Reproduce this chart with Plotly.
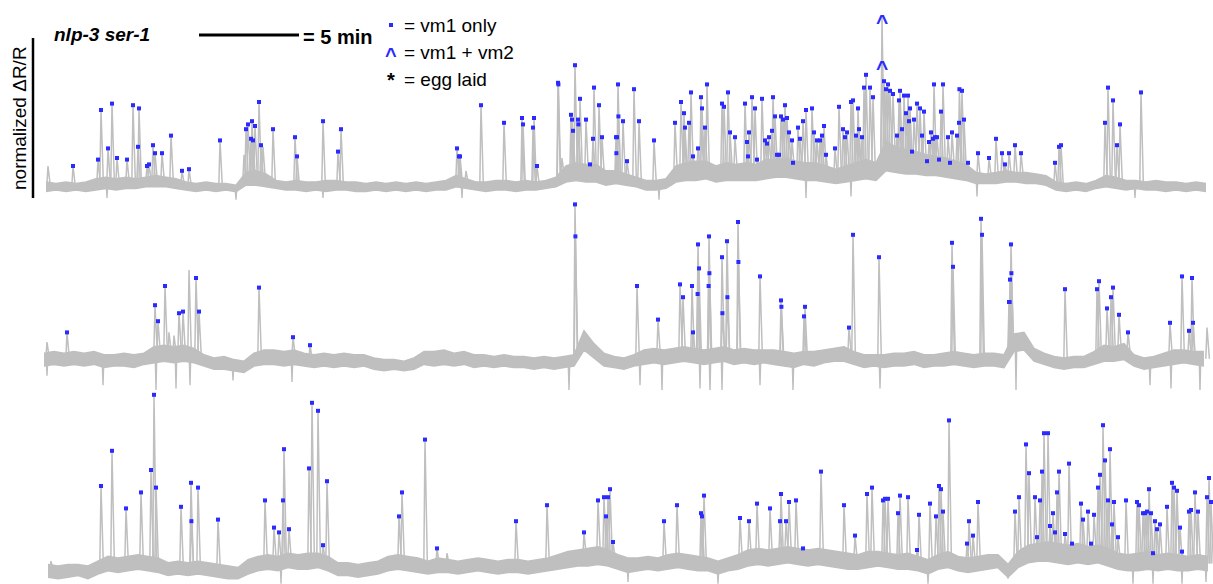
import numpy as np
import plotly.graph_objects as go

# ---------------------------------------------------------------------------
# Data: time in minutes, signal in normalized dR/R units
# ---------------------------------------------------------------------------
BASE_STEP = 0.5  # sampling interval of the resting band (min)

# ---- row 1 ----
r1_base_t0 = 0.1
r1_floor = [-0.01, 0.00, -0.01, 0.00, -0.01, 0.00, 0.01, 0.00, 0.01, 0.01,
            0.02, 0.02, 0.02, 0.01, 0.00, -0.01, 0.00, -0.01, 0.00, -0.01,
            0.03, 0.03, 0.02, 0.01, 0.00, 0.00, -0.01, 0.00, -0.01, 0.00,
            0.00, -0.01, -0.01, 0.00, -0.01, 0.00, -0.01, 0.00, -0.01, 0.00,
            0.00, 0.02, 0.01, 0.00, -0.01, 0.00, 0.00, -0.01, 0.00, 0.00,
            0.01, 0.02, 0.05, 0.06, 0.05, 0.05, 0.03, 0.04, 0.03, 0.02,
            0.00, 0.00, 0.01, 0.05, 0.06, 0.06, 0.07, 0.05, 0.06, 0.06,
            0.06, 0.06, 0.07, 0.08, 0.08, 0.07, 0.06, 0.06, 0.05, 0.04,
            0.05, 0.06, 0.07, 0.06, 0.12, 0.11, 0.10, 0.10, 0.09, 0.09,
            0.08, 0.07, 0.06, 0.04, 0.04, 0.04, 0.05, 0.05, 0.04, 0.04,
            0.03, 0.00, -0.01, 0.00, -0.01, 0.01, 0.02, 0.01, 0.00, 0.01,
            0.00, 0.00, -0.01, 0.00, -0.01, 0.00, -0.01]
r1_ceil = [0.05, 0.04, 0.05, 0.04, 0.05, 0.07, 0.08, 0.07, 0.08, 0.07,
           0.08, 0.09, 0.08, 0.07, 0.05, 0.04, 0.05, 0.04, 0.04, 0.03,
           0.11, 0.12, 0.10, 0.06, 0.05, 0.06, 0.05, 0.05, 0.06, 0.06,
           0.05, 0.05, 0.04, 0.05, 0.04, 0.05, 0.04, 0.05, 0.04, 0.05,
           0.06, 0.09, 0.07, 0.05, 0.05, 0.06, 0.06, 0.05, 0.06, 0.05,
           0.06, 0.08, 0.15, 0.17, 0.16, 0.16, 0.12, 0.12, 0.10, 0.08,
           0.06, 0.06, 0.07, 0.15, 0.17, 0.18, 0.18, 0.15, 0.17, 0.16,
           0.17, 0.16, 0.19, 0.19, 0.20, 0.18, 0.17, 0.17, 0.15, 0.13,
           0.15, 0.17, 0.19, 0.17, 0.30, 0.27, 0.25, 0.24, 0.22, 0.21,
           0.20, 0.18, 0.16, 0.11, 0.10, 0.11, 0.12, 0.11, 0.11, 0.10,
           0.09, 0.05, 0.04, 0.05, 0.04, 0.06, 0.09, 0.08, 0.06, 0.06,
           0.05, 0.06, 0.05, 0.05, 0.04, 0.05, 0.04]
r1_vm1_t = [1.45, 2.70, 2.85, 3.20, 3.40, 3.65, 4.15, 4.45, 4.70, 4.75,
            5.15, 5.25, 5.45, 5.55, 5.90, 6.35, 6.90, 7.25, 8.80, 10.10,
            10.20, 10.40, 10.35, 10.45, 10.55, 10.75, 10.85, 11.45, 12.55, 12.65,
            13.95, 14.70, 14.85, 20.65, 20.75, 20.80, 21.85, 23.00, 23.90, 23.95,
            24.45, 24.50, 24.65, 25.70, 25.72, 26.35, 26.40, 26.45, 26.55, 26.70,
            26.72, 26.80, 27.10, 27.30, 27.45, 27.50, 27.75, 27.90, 28.60, 28.62,
            28.65, 28.70, 28.72, 28.95, 29.15, 29.50, 29.75, 30.50, 31.55, 31.85,
            32.00, 32.05, 32.25, 32.35, 32.45, 32.70, 32.85, 32.90, 33.05, 33.15,
            33.90, 34.00, 34.20, 34.30, 34.55, 35.05, 35.15, 35.20, 35.25, 35.40,
            35.55, 35.65, 35.90, 36.05, 36.15, 36.25, 36.40, 36.45, 36.55, 36.65,
            36.75, 36.85, 36.95, 37.05, 37.15, 37.25, 37.40, 37.45, 37.70, 37.80,
            37.95, 38.10, 38.40, 38.50, 38.65, 38.80, 38.90, 39.00, 39.10, 39.55,
            39.75, 39.95, 40.05, 40.15, 40.35, 40.45, 40.60, 40.70, 40.75, 40.90,
            41.00, 41.10, 41.30, 41.45, 42.00, 42.10, 42.20, 42.30, 42.45, 42.65,
            42.75, 42.80, 42.90, 43.00, 43.10, 43.20, 43.25, 43.30, 43.40, 43.50,
            43.65, 43.80, 43.90, 44.00, 44.15, 44.25, 44.35, 44.45, 44.50, 44.55,
            44.65, 44.75, 44.85, 44.95, 45.20, 45.30, 45.40, 45.65, 45.75, 45.77,
            45.90, 46.00, 46.20, 46.70, 47.25, 47.60, 47.90, 48.05, 48.25, 48.55,
            48.85, 50.55, 50.75, 50.85, 53.05, 53.20, 53.45, 53.65, 53.80, 54.85]
r1_vm1_v = [0.15, 0.19, 0.50, 0.26, 0.54, 0.20, 0.19, 0.53, 0.27, 0.51,
            0.15, 0.16, 0.28, 0.23, 0.23, 0.34, 0.12, 0.13, 0.31, 0.38,
            0.41, 0.43, 0.32, 0.31, 0.40, 0.55, 0.28, 0.38, 0.33, 0.21,
            0.43, 0.24, 0.38, 0.26, 0.21, 0.21, 0.53, 0.42, 0.45, 0.41,
            0.39, 0.45, 0.15, 0.67, 0.66, 0.47, 0.44, 0.37, 0.78, 0.44,
            0.41, 0.57, 0.44, 0.16, 0.32, 0.64, 0.53, 0.33, 0.33, 0.23,
            0.33, 0.66, 0.46, 0.43, 0.18, 0.63, 0.43, 0.31, 0.42, 0.55,
            0.48, 0.39, 0.42, 0.61, 0.21, 0.26, 0.58, 0.51, 0.39, 0.66,
            0.54, 0.52, 0.61, 0.36, 0.33, 0.54, 0.30, 0.21, 0.36, 0.58,
            0.51, 0.19, 0.57, 0.31, 0.29, 0.33, 0.37, 0.58, 0.46, 0.22,
            0.22, 0.46, 0.44, 0.53, 0.45, 0.36, 0.31, 0.17, 0.39, 0.32,
            0.43, 0.50, 0.51, 0.36, 0.31, 0.31, 0.34, 0.40, 0.22, 0.26,
            0.52, 0.38, 0.33, 0.36, 0.55, 0.56, 0.34, 0.51, 0.38, 0.33,
            0.64, 0.72, 0.64, 0.58, 0.68, 0.63, 0.66, 0.62, 0.60, 0.34,
            0.56, 0.62, 0.38, 0.59, 0.48, 0.59, 0.43, 0.51, 0.24, 0.44,
            0.54, 0.51, 0.34, 0.49, 0.18, 0.30, 0.36, 0.32, 0.66, 0.33,
            0.33, 0.19, 0.49, 0.66, 0.33, 0.17, 0.36, 0.34, 0.42, 0.63,
            0.62, 0.44, 0.17, 0.23, 0.20, 0.32, 0.23, 0.16, 0.23, 0.28,
            0.23, 0.17, 0.27, 0.28, 0.42, 0.64, 0.56, 0.28, 0.41, 0.61]
r1_vm12_t = [41.90, 41.90]
r1_vm12_v = [1.08, 0.79]
r1_other_t = [0.20, 10.00, 10.95, 21.10, 25.90]
r1_other_v = [0.15, 0.22, 0.27, 0.12, 0.20]
r1_dip_t = [3.15, 9.60, 13.95, 20.90, 30.75, 38.10, 40.35, 46.65, 54.55]
r1_dip_v = [-0.05, -0.06, -0.05, -0.05, -0.06, -0.05, -0.04, -0.04, -0.05]

# ---- row 2 ----
r2_base_t0 = 0.0
r2_floor = [0.00, 0.01, 0.00, 0.01, 0.00, 0.01, -0.01, 0.00, 0.00, -0.01,
            0.01, 0.02, 0.03, 0.02, 0.03, 0.02, 0.00, -0.02, -0.02, -0.03,
            -0.04, 0.00, 0.01, 0.01, 0.00, 0.01, 0.00, -0.01, 0.00, -0.01,
            0.00, -0.01, 0.00, -0.02, -0.03, -0.02, -0.03, -0.02, 0.01, 0.00,
            0.01, 0.00, 0.01, -0.01, 0.00, -0.01, 0.00, -0.01, -0.01, -0.02,
            -0.01, -0.02, -0.01, 0.00, 0.10, 0.05, 0.00, -0.01, -0.02, 0.00,
            0.01, 0.02, 0.01, 0.02, 0.03, 0.02, 0.01, 0.02, 0.03, 0.01,
            0.02, 0.01, 0.02, 0.01, 0.00, -0.01, 0.01, 0.00, 0.02, 0.03,
            0.03, 0.01, -0.01, 0.00, -0.01, 0.00, 0.00, 0.01, -0.01, 0.00,
            0.00, 0.01, 0.00, -0.01, 0.00, 0.00, -0.01, 0.09, 0.10, 0.03,
            0.01, -0.01, -0.02, -0.01, -0.01, 0.01, 0.03, 0.03, 0.04, 0.00,
            -0.02, -0.01, 0.00, 0.01, 0.02, 0.01, 0.00]
r2_ceil = [0.08, 0.09, 0.08, 0.09, 0.08, 0.09, 0.07, 0.07, 0.08, 0.07,
           0.08, 0.12, 0.13, 0.12, 0.13, 0.11, 0.07, 0.05, 0.06, 0.04,
           0.03, 0.08, 0.10, 0.10, 0.09, 0.10, 0.08, 0.07, 0.08, 0.07,
           0.08, 0.07, 0.07, 0.05, 0.04, 0.04, 0.03, 0.05, 0.09, 0.09,
           0.10, 0.08, 0.09, 0.07, 0.07, 0.06, 0.07, 0.06, 0.06, 0.05,
           0.06, 0.05, 0.06, 0.07, 0.22, 0.14, 0.08, 0.06, 0.05, 0.07,
           0.10, 0.11, 0.10, 0.11, 0.12, 0.11, 0.10, 0.11, 0.12, 0.10,
           0.11, 0.10, 0.10, 0.10, 0.09, 0.08, 0.09, 0.09, 0.10, 0.11,
           0.12, 0.09, 0.07, 0.07, 0.07, 0.08, 0.08, 0.09, 0.07, 0.07,
           0.08, 0.09, 0.08, 0.07, 0.08, 0.08, 0.07, 0.20, 0.21, 0.11,
           0.08, 0.06, 0.05, 0.06, 0.06, 0.09, 0.13, 0.12, 0.14, 0.07,
           0.05, 0.06, 0.08, 0.10, 0.10, 0.09, 0.09]
r2_vm1_t = [1.15, 5.55, 5.70, 6.05, 6.75, 6.95, 7.60, 7.75, 10.75, 12.45,
            13.30, 26.55, 26.57, 29.65, 30.70, 31.80, 31.95, 32.40, 32.45, 32.70,
            32.75, 32.68, 33.25, 33.27, 33.23, 33.90, 33.92, 34.15, 34.17, 34.70,
            34.72, 35.80, 36.85, 36.87, 38.05, 38.00, 40.25, 40.45, 41.75, 45.40,
            45.45, 46.85, 46.90, 48.35, 48.37, 48.30, 48.25, 48.28, 51.05, 52.65,
            52.75, 53.15, 53.35, 53.45, 53.75, 54.20, 56.30, 56.90, 57.25, 57.40,
            57.45]
r2_vm1_v = [0.21, 0.38, 0.28, 0.50, 0.33, 0.34, 0.55, 0.34, 0.49, 0.18,
            0.13, 1.01, 0.81, 0.50, 0.29, 0.51, 0.43, 0.50, 0.21, 0.76,
            0.61, 0.45, 0.81, 0.58, 0.50, 0.68, 0.33, 0.78, 0.43, 0.90,
            0.65, 0.56, 0.41, 0.37, 0.37, 0.31, 0.24, 0.82, 0.68, 0.77,
            0.62, 0.92, 0.82, 0.76, 0.58, 0.54, 0.40, 0.40, 0.48, 0.48,
            0.53, 0.36, 0.43, 0.49, 0.32, 0.21, 0.27, 0.56, 0.22, 0.55,
            0.27]
r2_other_t = [0.15, 6.25, 6.50, 7.25, 48.70, 58.15]
r2_other_v = [0.15, 0.21, 0.19, 0.60, 0.12, 0.24]
r2_dip_t = [0.15, 2.95, 5.60, 6.60, 7.30, 9.45, 12.40, 26.25, 29.80, 30.90,
            32.80, 33.30, 33.90, 35.80, 37.45, 41.80, 48.60, 55.30, 56.35, 57.80]
r2_dip_v = [-0.06, -0.12, -0.15, -0.14, -0.12, -0.09, -0.10, -0.15, -0.12, -0.16,
            -0.14, -0.16, -0.15, -0.12, -0.15, -0.14, -0.15, -0.12, -0.14, -0.16]

# ---- row 3 ----
r3_base_t0 = 0.2
r3_floor = [-0.02, -0.03, -0.02, -0.01, -0.03, 0.00, 0.02, 0.01, 0.02, 0.03,
            0.02, 0.01, -0.01, 0.00, -0.01, 0.00, -0.01, -0.02, -0.03, -0.03,
            0.00, 0.02, 0.03, 0.02, 0.04, 0.03, 0.03, 0.04, 0.02, -0.01,
            -0.01, -0.02, -0.01, 0.00, 0.02, 0.03, 0.02, 0.01, 0.00, 0.01,
            0.01, 0.00, 0.01, 0.02, 0.01, 0.00, 0.01, 0.01, 0.00, 0.01,
            0.02, 0.03, 0.04, 0.05, 0.05, 0.06, 0.05, 0.03, 0.01, 0.02,
            0.03, 0.02, 0.03, 0.04, 0.03, 0.02, 0.02, 0.00, 0.02, 0.03,
            0.05, 0.06, 0.05, 0.06, 0.07, 0.06, 0.05, 0.06, 0.05, 0.04,
            0.03, 0.03, 0.04, 0.05, 0.04, 0.03, 0.03, 0.02, 0.00, 0.03,
            0.04, 0.02, 0.01, 0.02, 0.03, 0.04, -0.02, 0.04, 0.07, 0.08,
            0.08, 0.07, 0.06, 0.07, 0.06, 0.07, 0.05, 0.03, 0.02, 0.02,
            0.03, 0.02, 0.03, 0.02, 0.02, 0.03, 0.02]
r3_ceil = [0.06, 0.05, 0.06, 0.06, 0.05, 0.08, 0.11, 0.10, 0.11, 0.12,
           0.11, 0.10, 0.07, 0.08, 0.07, 0.08, 0.07, 0.06, 0.05, 0.04,
           0.09, 0.11, 0.12, 0.11, 0.13, 0.12, 0.13, 0.13, 0.11, 0.07,
           0.07, 0.06, 0.07, 0.08, 0.11, 0.12, 0.11, 0.10, 0.08, 0.10,
           0.09, 0.08, 0.09, 0.10, 0.09, 0.08, 0.09, 0.09, 0.08, 0.09,
           0.10, 0.12, 0.14, 0.15, 0.16, 0.17, 0.15, 0.12, 0.10, 0.10,
           0.11, 0.10, 0.12, 0.13, 0.12, 0.11, 0.10, 0.08, 0.10, 0.12,
           0.15, 0.16, 0.15, 0.16, 0.17, 0.16, 0.15, 0.16, 0.15, 0.14,
           0.13, 0.12, 0.14, 0.14, 0.13, 0.12, 0.13, 0.11, 0.09, 0.12,
           0.14, 0.11, 0.10, 0.11, 0.12, 0.12, 0.06, 0.14, 0.18, 0.19,
           0.20, 0.19, 0.18, 0.19, 0.17, 0.18, 0.16, 0.13, 0.12, 0.13,
           0.14, 0.12, 0.13, 0.12, 0.11, 0.12, 0.11]
r3_vm1_t = [2.85, 3.40, 4.10, 4.85, 5.35, 5.50, 5.60, 6.85, 7.35, 7.37,
            7.70, 8.70, 11.05, 11.50, 11.75, 11.95, 12.00, 12.25, 13.25, 13.40,
            13.70, 13.95, 14.15, 17.75, 17.90, 19.05, 19.65, 23.60, 25.15, 27.00,
            27.70, 28.00, 28.10, 28.20, 28.30, 28.45, 31.00, 31.65, 32.85, 32.90,
            33.00, 34.80, 35.25, 35.65, 36.30, 36.80, 36.85, 37.10, 37.25, 37.60,
            37.95, 38.85, 40.00, 40.55, 41.15, 41.40, 41.95, 42.05, 42.20, 42.70,
            42.80, 43.20, 43.65, 43.75, 44.30, 44.60, 44.75, 44.85, 44.95, 45.25,
            46.15, 46.25, 46.45, 46.70, 48.55, 48.75, 49.10, 49.25, 49.55, 49.65,
            49.80, 49.90, 50.00, 50.20, 50.30, 50.45, 50.55, 50.65, 50.75, 51.05,
            51.25, 51.40, 51.85, 51.95, 52.20, 52.35, 52.50, 52.70, 52.80, 52.95,
            53.05, 53.20, 53.30, 53.40, 53.50, 53.70, 54.10, 54.65, 54.75, 54.95,
            55.05, 55.15, 55.25, 55.35, 55.45, 55.55, 55.65, 55.80, 56.15, 56.40,
            56.50, 56.65, 56.80, 56.90, 57.25, 57.35, 57.55, 57.70, 58.15, 58.25,
            58.35]
r3_vm1_v = [0.55, 0.77, 0.41, 0.51, 0.65, 1.12, 0.54, 0.42, 0.57, 0.33,
            0.54, 0.34, 0.46, 0.29, 0.26, 0.46, 0.78, 0.28, 0.66, 1.07,
            1.02, 0.18, 0.58, 0.36, 0.51, 0.84, 0.16, 0.33, 0.43, 0.26,
            0.46, 0.48, 0.36, 0.48, 0.53, 0.20, 0.33, 0.43, 0.38, 0.36,
            0.49, 0.35, 0.33, 0.44, 0.41, 0.33, 0.50, 0.33, 0.45, 0.46,
            0.16, 0.64, 0.43, 0.24, 0.50, 0.54, 0.46, 0.47, 0.47, 0.38,
            0.49, 0.48, 0.15, 0.37, 0.44, 0.36, 0.55, 0.53, 0.39, 0.96,
            0.19, 0.33, 0.24, 0.45, 0.39, 0.48, 0.81, 0.63, 0.48, 0.23,
            0.46, 0.64, 0.88, 0.88, 0.30, 0.38, 0.26, 0.51, 0.64, 0.25,
            0.69, 0.19, 0.44, 0.34, 0.39, 0.19, 0.37, 0.54, 0.62, 0.93,
            0.71, 0.46, 0.78, 0.31, 0.45, 0.23, 0.46, 0.45, 0.43, 0.38,
            0.38, 0.39, 0.53, 0.38, 0.13, 0.33, 0.28, 0.31, 0.42, 0.57,
            0.54, 0.52, 0.29, 0.14, 0.39, 0.40, 0.51, 0.39, 0.48, 0.60,
            0.45]
r3_other_t = [0.35, 9.95, 20.15]
r3_other_v = [0.08, 0.06, 0.13]
r3_dip_t = [11.85, 29.20, 33.70, 44.20, 48.20, 54.45, 55.45, 56.90, 58.10]
r3_dip_v = [-0.06, -0.05, -0.06, -0.06, -0.03, -0.06, -0.06, -0.06, -0.05]

# ---------------------------------------------------------------------------
# Page geometry (pixels) and styling
# ---------------------------------------------------------------------------
W, H = 1213, 584
PX_PER_MIN = 20.0     # horizontal scale
PX_PER_UNIT = 160.0   # vertical scale (1 normalized unit)
X_ORIGIN_PX = 44.0    # pixel column of t = 0
ROW_PX = [(0, 200, 190), (200, 390, 366), (390, 584, 574)]  # top, bottom, zero level

TRACE_GREY = "#bfbfbf"
VM1_BLUE = "#2b2bff"
FONT = "Liberation Sans, Arial, sans-serif"

x_range = [-X_ORIGIN_PX / PX_PER_MIN, (W - X_ORIGIN_PX) / PX_PER_MIN]


def px_to_paper_x(px):
    return px / W


def px_to_paper_y(py):
    return 1 - py / H


def spike_path(ts, vs, bt, bv, left, right):
    xs, ys = [], []
    for t, v in zip(ts, vs):
        b = float(np.interp(t, bt, bv))
        xs += [t - left, t, t + right, None]
        ys += [b, v, b, None]
    return xs, ys


rows = [
    dict(t0=r1_base_t0, lo=r1_floor, hi=r1_ceil, vt=r1_vm1_t, vv=r1_vm1_v,
         ot=r1_other_t, ov=r1_other_v, dt=r1_dip_t, dv=r1_dip_v,
         ct=r1_vm12_t, cv=r1_vm12_v),
    dict(t0=r2_base_t0, lo=r2_floor, hi=r2_ceil, vt=r2_vm1_t, vv=r2_vm1_v,
         ot=r2_other_t, ov=r2_other_v, dt=r2_dip_t, dv=r2_dip_v,
         ct=[], cv=[]),
    dict(t0=r3_base_t0, lo=r3_floor, hi=r3_ceil, vt=r3_vm1_t, vv=r3_vm1_v,
         ot=r3_other_t, ov=r3_other_v, dt=r3_dip_t, dv=r3_dip_v,
         ct=[], cv=[]),
]

fig = go.Figure()
layout_axes = {}
caret_notes = []

for i, row in enumerate(rows):
    n = i + 1
    xa = "x" if n == 1 else f"x{n}"
    ya = "y" if n == 1 else f"y{n}"
    top, bottom, zero = ROW_PX[i]

    bt = row["t0"] + BASE_STEP * np.arange(len(row["lo"]))
    lo = np.array(row["lo"])
    hi = np.array(row["hi"])

    # resting band of the trace (lower and upper envelope, filled)
    fig.add_trace(go.Scatter(x=bt, y=lo, mode="lines", xaxis=xa, yaxis=ya,
                             line=dict(color=TRACE_GREY, width=1.5),
                             hoverinfo="skip", showlegend=False))
    fig.add_trace(go.Scatter(x=bt, y=hi, mode="lines", xaxis=xa, yaxis=ya,
                             fill="tonexty", fillcolor=TRACE_GREY,
                             line=dict(color=TRACE_GREY, width=1.5),
                             hoverinfo="skip", showlegend=False))

    # transients (scored events plus unscored ones) and downward artefacts
    all_t = list(row["vt"]) + list(row["ct"]) + list(row["ot"])
    all_v = list(row["vv"]) + list(row["cv"]) + list(row["ov"])
    mid = (lo + hi) / 2
    sx, sy = spike_path(all_t, all_v, bt, mid, 0.06, 0.12)
    fig.add_trace(go.Scatter(x=sx, y=sy, mode="lines", xaxis=xa, yaxis=ya,
                             line=dict(color=TRACE_GREY, width=1.5),
                             hoverinfo="skip", showlegend=False))
    dx, dy = spike_path(row["dt"], row["dv"], bt, mid, 0.04, 0.04)
    fig.add_trace(go.Scatter(x=dx, y=dy, mode="lines", xaxis=xa, yaxis=ya,
                             line=dict(color=TRACE_GREY, width=1.4),
                             hoverinfo="skip", showlegend=False))

    # vm1-only events
    fig.add_trace(go.Scatter(x=row["vt"], y=row["vv"], mode="markers",
                             xaxis=xa, yaxis=ya,
                             marker=dict(symbol="square", size=4, color=VM1_BLUE,
                                         line=dict(width=0)),
                             hoverinfo="skip", showlegend=False))
    # vm1 + vm2 events: caret drawn at the transient peak
    for t, v in zip(row["ct"], row["cv"]):
        caret_notes.append(dict(text="<b>^</b>", x=t, y=v, xref=xa, yref=ya,
                                xanchor="center", yanchor="middle", yshift=-4,
                                showarrow=False,
                                font=dict(family=FONT, size=21, color=VM1_BLUE)))

    ax_common = dict(visible=False, showgrid=False, zeroline=False, fixedrange=True)
    layout_axes["xaxis" if n == 1 else f"xaxis{n}"] = dict(
        domain=[0, 1], range=x_range, anchor=ya, **ax_common)
    layout_axes["yaxis" if n == 1 else f"yaxis{n}"] = dict(
        domain=[px_to_paper_y(bottom), px_to_paper_y(top)],
        range=[(zero - bottom) / PX_PER_UNIT, (zero - top) / PX_PER_UNIT],
        anchor=xa, **ax_common)

# ---------------------------------------------------------------------------
# Scale bars, title and key
# ---------------------------------------------------------------------------
shapes = [
    # 5-minute bar
    dict(type="line", xref="x", yref="paper", x0=7.75, x1=12.75,
         y0=px_to_paper_y(35), y1=px_to_paper_y(35),
         line=dict(color="black", width=3)),
    # 1-unit normalized dR/R bar
    dict(type="line", xref="paper", yref="y", x0=px_to_paper_x(33), x1=px_to_paper_x(33),
         y0=-0.05, y1=0.95, line=dict(color="black", width=2.5)),
    # key: vm1-only square
    dict(type="rect", xref="paper", yref="paper",
         x0=px_to_paper_x(389), x1=px_to_paper_x(393),
         y0=px_to_paper_y(27), y1=px_to_paper_y(23),
         fillcolor=VM1_BLUE, line=dict(width=0)),
]

annotations = [
    dict(text="<b><i>nlp-3 ser-1</i></b>", x=px_to_paper_x(52), y=px_to_paper_y(35),
         xanchor="left", yanchor="middle", font=dict(family=FONT, size=19, color="black")),
    dict(text="<b>= 5 min</b>", x=px_to_paper_x(301), y=px_to_paper_y(37),
         xanchor="left", yanchor="middle", font=dict(family=FONT, size=20, color="black")),
    dict(text="= vm1 only", x=px_to_paper_x(402), y=px_to_paper_y(25),
         xanchor="left", yanchor="middle", font=dict(family=FONT, size=19, color="black")),
    dict(text="<b>^</b>", x=px_to_paper_x(391), y=px_to_paper_y(55),
         xanchor="center", yanchor="middle", font=dict(family=FONT, size=20, color=VM1_BLUE)),
    dict(text="= vm1 + vm2", x=px_to_paper_x(402), y=px_to_paper_y(53),
         xanchor="left", yanchor="middle", font=dict(family=FONT, size=19, color="black")),
    dict(text="<b>*</b>", x=px_to_paper_x(391), y=px_to_paper_y(80),
         xanchor="center", yanchor="middle", font=dict(family=FONT, size=20, color="black")),
    dict(text="= egg laid", x=px_to_paper_x(402), y=px_to_paper_y(79),
         xanchor="left", yanchor="middle", font=dict(family=FONT, size=19, color="black")),
    dict(text="normalized \u0394R/R", x=px_to_paper_x(19), y=px_to_paper_y(118),
         xanchor="center", yanchor="middle", textangle=-90,
         font=dict(family=FONT, size=19, color="black")),
]
for a in annotations:
    a.update(xref="paper", yref="paper", showarrow=False)

fig.update_layout(
    width=W, height=H,
    margin=dict(l=0, r=0, t=0, b=0),
    paper_bgcolor="white", plot_bgcolor="white",
    showlegend=False,
    shapes=shapes, annotations=annotations + caret_notes,
    **layout_axes,
)

fig.write_html("out.html")
